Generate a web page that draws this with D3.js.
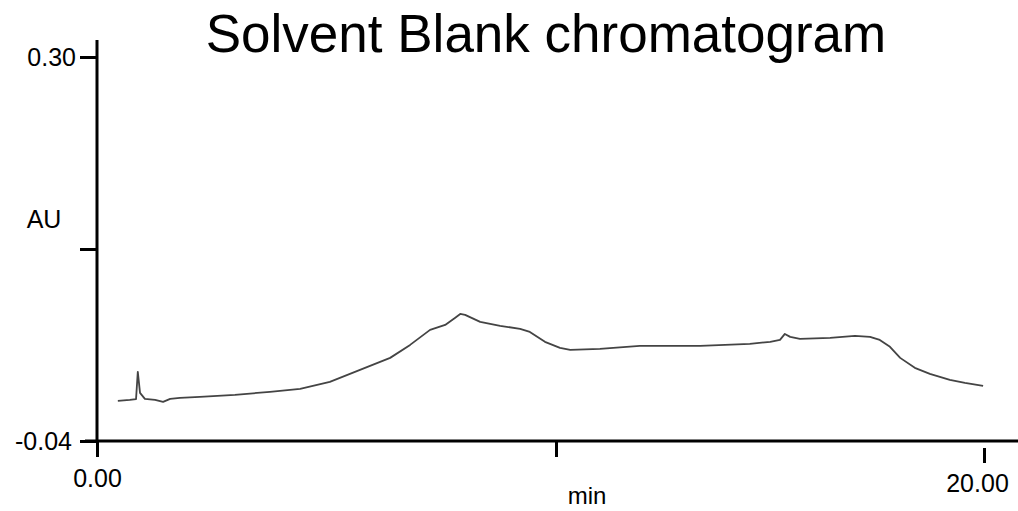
<!DOCTYPE html>
<html>
<head>
<meta charset="utf-8">
<script src="https://cdn.jsdelivr.net/npm/d3@7"></script>
<style>
  body { margin: 0; background: #fff; }
  svg { display: block; font-family: "Liberation Sans", Arial, sans-serif; }
</style>
</head>
<body>
<div id="chart"></div>
<script>
// retention time (min) and absorbance (AU)
const times = [0.47, 0.74, 0.88, 0.92, 0.97, 1.08, 1.31, 1.49, 1.65, 1.87, 2.32, 3.11, 3.90,
  4.58, 5.25, 5.93, 6.61, 7.06, 7.51, 7.85, 8.07, 8.19, 8.30, 8.64, 9.09, 9.54, 9.76, 10.10,
  10.44, 10.67, 11.34, 12.24, 13.60, 14.72, 15.18, 15.40, 15.51, 15.63, 15.85, 16.53, 17.09,
  17.43, 17.65, 17.88, 18.11, 18.44, 18.78, 19.23, 19.57, 19.98];
const absorbance = [-0.0045, -0.0036, -0.0030, 0.0212, 0.0026, -0.0027, -0.0036, -0.0053, -0.0027,
  -0.0018, -0.0009, 0.0009, 0.0035, 0.0062, 0.0124, 0.0230, 0.0336, 0.0451, 0.0584, 0.0628,
  0.0690, 0.0725, 0.0717, 0.0655, 0.0620, 0.0593, 0.0566, 0.0478, 0.0425, 0.0407, 0.0416,
  0.0442, 0.0442, 0.0460, 0.0478, 0.0495, 0.0548, 0.0522, 0.0504, 0.0513, 0.0531, 0.0522,
  0.0495, 0.0434, 0.0336, 0.0248, 0.0195, 0.0141, 0.0115, 0.0088];
const yTicks = [0.30, 0.13, -0.04];
const xTicks = [0, 10.35, 20];

const width = 1018;
const height = 511;

const svg = d3.select("#chart")
  .append("svg")
  .attr("width", width)
  .attr("height", height);

const x = d3.scaleLinear().domain([0, 20]).range([97, 984]);
const y = d3.scaleLinear().domain([-0.04, 0.30]).range([441, 57]);

// title
svg.append("text")
  .attr("x", 546)
  .attr("y", 52)
  .attr("text-anchor", "middle")
  .style("font-size", "53px")
  .text("Solvent Blank chromatogram");

// the trace
const line = d3.line()
  .x((d, i) => x(times[i]))
  .y(d => y(d));

svg.append("path")
  .datum(absorbance)
  .attr("fill", "none")
  .attr("stroke", "#444")
  .attr("stroke-width", 1.8)
  .attr("stroke-linejoin", "round")
  .attr("d", line);

// y axis
const yAxis = svg.append("g")
  .attr("transform", "translate(97,0)")
  .call(d3.axisLeft(y)
    .tickValues(yTicks)
    .tickSize(17)
    .tickFormat(d => d === 0.13 ? "" : d.toFixed(2)));
yAxis.select(".domain").remove();
yAxis.selectAll("line").attr("stroke-width", 3).attr("stroke", "#000");
yAxis.selectAll("text")
  .attr("fill", "#000")
  .style("font-size", "25px")
  .attr("dy", "0.32em");
yAxis.selectAll(".tick").filter(d => d === -0.04).select("text").attr("x", -25);
yAxis.selectAll(".tick").filter(d => d === 0.30).select("text").attr("x", -21);

svg.append("line")
  .attr("x1", 97).attr("x2", 97)
  .attr("y1", 40).attr("y2", 441)
  .attr("stroke", "#000").attr("stroke-width", 3);

// x axis
const xAxis = svg.append("g")
  .attr("transform", "translate(0,441)")
  .call(d3.axisBottom(x)
    .tickValues(xTicks)
    .tickSize(16)
    .tickFormat(d => d === 10.35 ? "" : d.toFixed(2)));
xAxis.select(".domain").remove();
xAxis.selectAll("line").attr("stroke-width", 3).attr("stroke", "#000");
xAxis.selectAll("text")
  .attr("fill", "#000")
  .style("font-size", "25px")
  .attr("dy", 0);
xAxis.selectAll(".tick").filter(d => d === 0).select("text").attr("y", 46);
const lastTick = xAxis.selectAll(".tick").filter(d => d === 20);
lastTick.select("line").attr("y1", 7).attr("y2", 22);
lastTick.select("text").attr("x", -7).attr("y", 51);

svg.append("line")
  .attr("x1", 85).attr("x2", width)
  .attr("y1", 441).attr("y2", 441)
  .attr("stroke", "#000").attr("stroke-width", 3);

// axis titles
svg.append("text")
  .attr("x", 44)
  .attr("y", 228)
  .attr("text-anchor", "middle")
  .style("font-size", "25px")
  .text("AU");

svg.append("text")
  .attr("x", 587)
  .attr("y", 504)
  .attr("text-anchor", "middle")
  .style("font-size", "24px")
  .text("min");
</script>
</body>
</html>
